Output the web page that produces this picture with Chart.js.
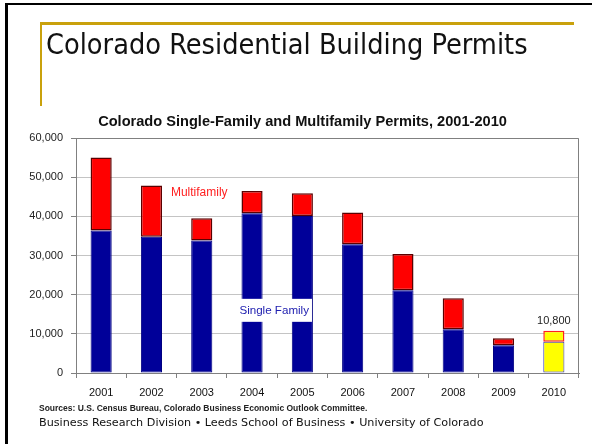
<!DOCTYPE html>
<html>
<head>
<meta charset="utf-8">
<script src="https://cdn.jsdelivr.net/npm/chart.js@4.4.0/dist/chart.umd.min.js"></script>
<style>
  html, body { margin:0; padding:0; background:#fff; }
  body { width:592px; height:444px; position:relative; overflow:hidden; }
  #wrap { position:absolute; left:0; top:0; width:592px; height:444px; }
  .abs { position:absolute; white-space:nowrap; }
  #frameTop { left:5px; top:3px; width:587px; height:2px; background:#000; }
  #frameLeft { left:5px; top:3px; width:3px; height:441px; background:#000; }
  #goldH { left:40px; top:22px; width:534px; height:3px; background:#C9A10C; }
  #goldV { left:40px; top:22px; width:2px; height:84px; background:#C9A10C; }
  #slideTitle { left:46px; top:27px; font-family:'DejaVu Sans Condensed','DejaVu Sans',sans-serif; font-size:28.6px; line-height:34px; color:#111; }
  #chartTitle { left:0; width:605px; top:113px; text-align:center; font-family:'Liberation Sans',Arial,sans-serif; font-weight:bold; font-size:14.6px; line-height:17px; color:#111; }
  #sources { left:39px; top:403px; font-family:'Liberation Sans',Arial,sans-serif; font-weight:bold; font-size:8.5px; line-height:11px; color:#222; }
  #footer { left:39px; top:416px; font-family:'DejaVu Sans',sans-serif; font-size:11.2px; line-height:14px; color:#111; }
</style>
</head>
<body>
<div id="wrap"><canvas id="c" width="592" height="444"></canvas></div>
<div class="abs" id="frameTop"></div>
<div class="abs" id="frameLeft"></div>
<div class="abs" id="goldH"></div>
<div class="abs" id="goldV"></div>
<div class="abs" id="slideTitle">Colorado Residential Building Permits</div>
<div class="abs" id="chartTitle">Colorado Single-Family and Multifamily Permits, 2001-2010</div>
<div class="abs" id="sources">Sources: U.S. Census Bureau, Colorado Business Economic Outlook Committee.</div>
<div class="abs" id="footer">Business Research Division • Leeds School of Business • University of Colorado</div>
<script>
const years = ['2001','2002','2003','2004','2005','2006','2007','2008','2009','2010'];
const singleFamily = [36400, 34800, 33800, 40800, 40100, 32900, 21100, 11200, 7100, 8000];
const multiFamily  = [18600, 13100,  5700,  5700,  5800,  8100,  9300,  7900, 1800, 2800];
const yTicks = [0, 10000, 20000, 30000, 40000, 50000, 60000];
const total2010Label = '10,800';

const FONT = "'Liberation Sans',Arial,sans-serif";
const n = years.length;
const sfColors = years.map((y,i) => i === n-1 ? '#FFFF00' : '#000099');
const sfBorders = years.map((y,i) => i === n-1 ? '#3030C0' : '#000080');
const mfColors = years.map((y,i) => i === n-1 ? '#FFFF00' : '#FF0000');
const mfBorders = years.map((y,i) => i === n-1 ? '#FF2020' : '#5A0000');

const annotations = {
  id: 'annotations',
  afterDraw(chart) {
    const ctx = chart.ctx, x = chart.scales.x, y = chart.scales.y, a = chart.chartArea;
    ctx.save();
    ctx.strokeStyle = '#808080'; ctx.lineWidth = 1;
    ctx.beginPath();
    ctx.moveTo(a.left, a.top + 0.5); ctx.lineTo(a.right - 0.5, a.top + 0.5); ctx.lineTo(a.right - 0.5, a.bottom);
    ctx.stroke();
    ctx.font = '11.6px ' + FONT;
    ctx.textAlign = 'center'; ctx.textBaseline = 'middle';
    const sx = (x.getPixelForValue(3) + x.getPixelForValue(4)) / 2 - 3;
    const sy = y.getPixelForValue(16000);
    const sw = ctx.measureText('Single Family').width;
    ctx.fillStyle = '#FFFFFF';
    ctx.fillRect(sx - sw/2 - 3, sy - 11.5, sw + 6, 23);
    ctx.fillStyle = '#2020B0';
    ctx.fillText('Single Family', sx, sy);
    ctx.font = '12px ' + FONT;
    ctx.fillStyle = '#FF2020';
    ctx.fillText('Multifamily', x.getPixelForValue(1.95), y.getPixelForValue(46000));
    ctx.font = '11px ' + FONT;
    ctx.fillStyle = '#222';
    const top2010 = y.getPixelForValue(singleFamily[n-1] + multiFamily[n-1]);
    ctx.fillText(total2010Label, x.getPixelForValue(n-1), top2010 - 10);
    ctx.restore();
  }
};

new Chart(document.getElementById('c'), {
  type: 'bar',
  data: {
    labels: years,
    datasets: [
      { label: 'Single Family', data: singleFamily, backgroundColor: sfColors, borderColor: sfBorders, borderWidth: 1, borderSkipped: false },
      { label: 'Multifamily', data: multiFamily, backgroundColor: mfColors, borderColor: mfBorders, borderWidth: 1.5, borderSkipped: false }
    ]
  },
  options: {
    responsive: false,
    animation: false,
    devicePixelRatio: 1,
    layout: { padding: { left: 0, right: 13, top: 138, bottom: 31 } },
    plugins: { legend: { display: false }, title: { display: false }, tooltip: { enabled: false } },
    datasets: { bar: { barPercentage: 0.42, categoryPercentage: 1 } },
    scales: {
      x: {
        stacked: true,
        afterFit: s => { s.height = 40; },
        grid: { display: true, drawOnChartArea: false, offset: true, tickLength: 5, color: '#808080', tickColor: '#808080' },
        border: { color: '#808080' },
        ticks: { color: '#111', padding: 8, font: { family: FONT, size: 11 } }
      },
      y: {
        stacked: true,
        min: 0, max: 60000,
        afterFit: s => { s.width = 76; },
        afterBuildTicks: s => { s.ticks = yTicks.map(v => ({ value: v })); },
        grid: { color: '#C4C4C4', tickLength: 5, tickColor: '#808080' },
        border: { color: '#808080' },
        ticks: { color: '#222', padding: 8, font: { family: FONT, size: 11 },
          callback: v => v.toLocaleString('en-US') }
      }
    }
  },
  plugins: [annotations]
});
</script>
</body>
</html>
